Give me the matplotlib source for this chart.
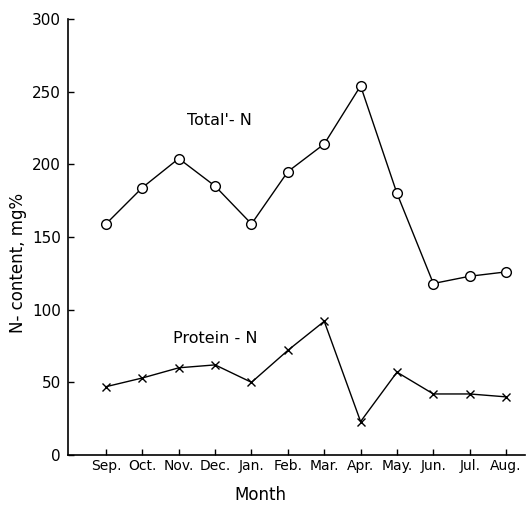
import matplotlib
matplotlib.use("Agg")
import matplotlib.pyplot as plt

months = ["Sep.", "Oct.", "Nov.", "Dec.", "Jan.", "Feb.", "Mar.", "Apr.", "May.", "Jun.", "Jul.", "Aug."]
total_n = [159, 184, 204, 185, 159, 195, 214, 254, 180, 118, 123, 126]
protein_n = [47, 53, 60, 62, 50, 72, 92, 23, 57, 42, 42, 40]
y_ticks = [0, 50, 100, 150, 200, 250, 300]

plt.rcParams['font.family'] = ['DejaVu Sans']

fig = plt.figure(figsize=(5.27, 5.07), dpi=100)
ax = fig.add_axes([68/527, 52/507, (525-68)/527, (455-19)/507])

x = list(range(len(months)))
ax.plot(x, total_n, color='black', lw=1.0, marker='o', markersize=7,
        markerfacecolor='white', markeredgecolor='black', markeredgewidth=1.0)
ax.plot(x, protein_n, color='black', lw=1.0, marker='x', markersize=5.5,
        markeredgewidth=1.0)

ax.set_xlim(-1.045, 11.52)
ax.set_ylim(0, 300)
ax.set_xticks(x)
ax.set_xticklabels(months, fontsize=10)
ax.set_yticks(y_ticks)
ax.set_yticklabels([str(v) for v in y_ticks], fontsize=11)

for s in ['top', 'right']:
    ax.spines[s].set_visible(False)
for s in ['left', 'bottom']:
    ax.spines[s].set_linewidth(1.2)

ax.tick_params(axis='both', direction='in', length=4, width=1.0)
ax.tick_params(axis='y', pad=5)
ax.tick_params(axis='x', pad=3)

ax.set_ylabel("N- content, mg%", fontsize=12)
ax.yaxis.set_label_coords(-0.09, 0.44)
ax.set_xlabel("Month", fontsize=12)
ax.xaxis.set_label_coords(0.422, -0.072)

ax.text(3.13, 230, "Total'- N", fontsize=11.5, ha='center', va='center')
ax.text(3.0, 80.3, "Protein - N", fontsize=11.5, ha='center', va='center')

fig.savefig("out.png", dpi=100)
